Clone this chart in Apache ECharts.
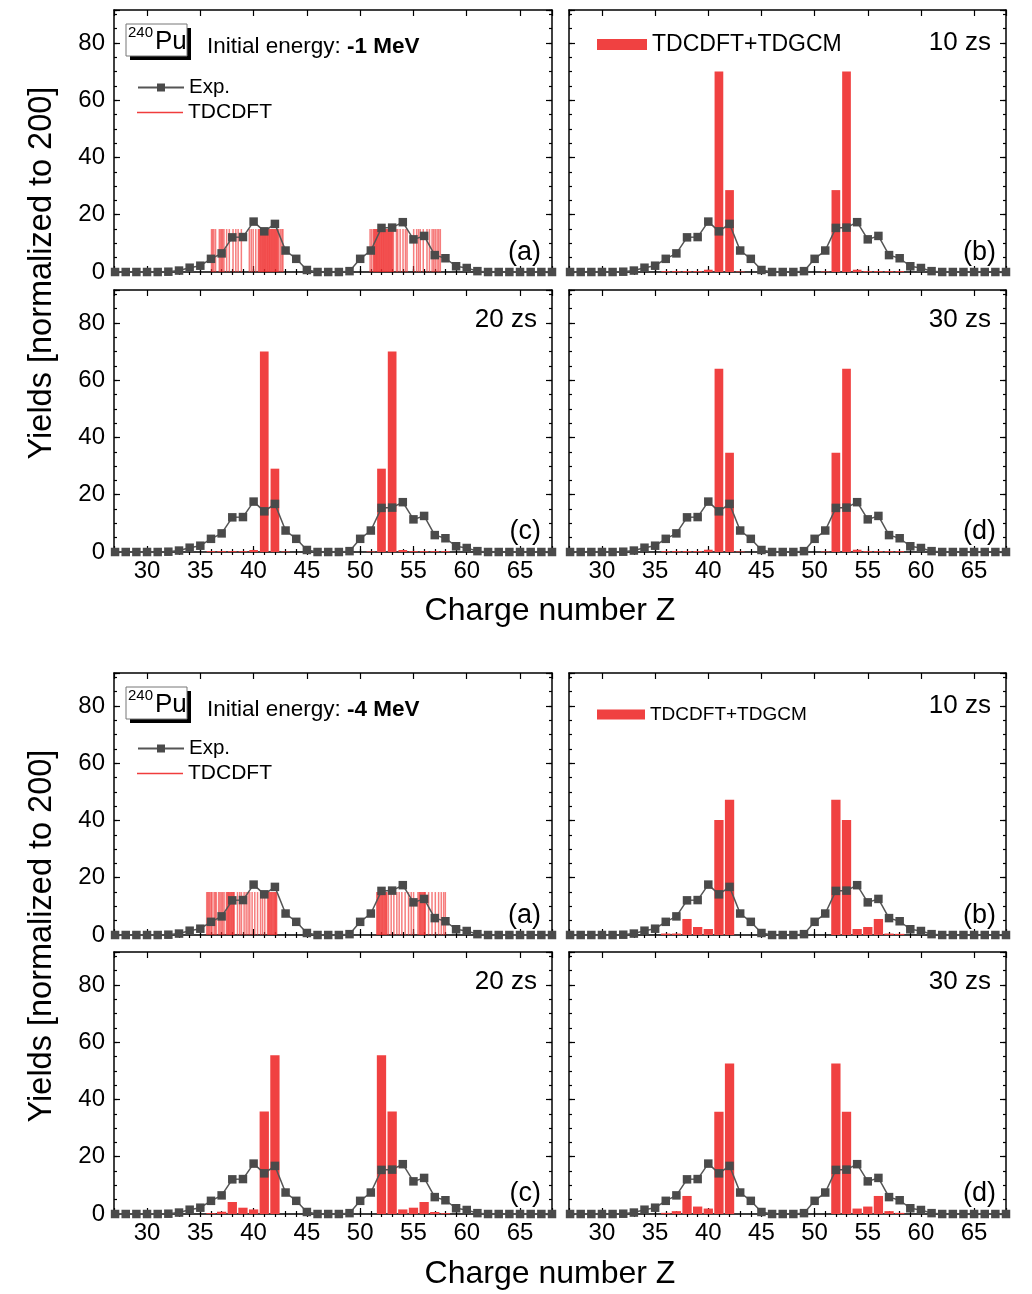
<!DOCTYPE html>
<html>
<head>
<meta charset="utf-8">
<script src="https://cdn.jsdelivr.net/npm/echarts@6.0.0/dist/echarts.min.js"></script>
<style>
html,body{margin:0;padding:0;background:#fff;}
#chart{width:1032px;height:1294px;}
</style>
</head>
<body>
<div id="chart"></div>
<script>
// ---------------- DATA ----------------
const zValues = [27,28,29,30,31,32,33,34,35,36,37,38,39,40,41,42,43,44,45,46,47,48,49,50,51,52,53,54,55,56,57,58,59,60,61,62,63,64,65,66,67,68];
const expYield = [0,0,0,0,0,0.1,0.5,1.5,2.2,4.6,6.5,12.1,12.2,17.6,14.2,16.8,7.5,4.6,0.7,0,0,0,0.3,4.6,7.5,15.4,15.5,17.4,11.4,12.6,5.9,4.8,2.0,1.4,0.3,0,0,0,0,0,0,0];

// TDCDFT+TDGCM yields, Z = 36..58
const gcmZ = [36,37,38,39,40,41,42,43,44,45,46,47,48,49,50,51,52,53,54,55,56,57,58];
const gcmM1_10zs = [0.3,0.3,0.3,0.3,0.8,70,28.6,0.2,0,0,0,0,0,0,0,0.2,28.6,70,0.8,0.3,0.3,0.3,0.3];
const gcmM1_20zs = [0.3,0.3,0.3,0.3,0.7,70,29.1,0.2,0,0,0,0,0,0,0,0.2,29.1,70,0.7,0.3,0.3,0.3,0.3];
const gcmM1_30zs = [0.3,0.3,0.3,0.3,0.8,64,34.7,0.2,0,0,0,0,0,0,0,0.2,34.7,64,0.8,0.3,0.3,0.3,0.3];
const gcmM4_10zs = [0.5,0.5,5.6,2.8,2.1,40.2,47.2,0,0,0,0,0,0,0,0,0,47.2,40.2,2.1,2.8,5.6,0.5,0.4];
const gcmM4_20zs = [0.3,0.8,4.2,2.2,1.6,35.8,55.4,0,0,0,0,0,0,0,0,0,55.4,35.8,1.6,2.2,4.2,0.7,0.3];
const gcmM4_30zs = [0.4,1.0,6.3,2.6,1.9,35.7,52.6,0,0,0,0,0,0,0,0,0,52.6,35.7,1.9,2.6,6.3,1.0,0.4];

// TDCDFT fragment charges (each drawn as a thin line)
const tdcdftZ_m1MeV = [36.05,36.15,36.27,36.43,36.78,36.9,37.0,37.1,37.22,37.47,37.72,38.07,38.33,38.55,38.85,39.6,39.78,39.96,40.2,
  40.45,40.52,40.6,40.66,40.73,40.8,40.87,40.93,41.0,41.07,41.13,41.2,41.27,41.33,41.4,41.47,41.53,41.6,41.67,41.73,41.8,41.87,41.93,42.0,42.07,42.13,42.2,42.27,42.35,
  42.5,42.65,42.75,
  50.93,51.08,51.24,51.3,51.37,51.44,51.5,51.57,51.63,51.7,51.77,51.83,51.9,51.97,52.03,52.1,52.17,52.23,52.3,52.37,52.43,52.5,52.57,52.63,52.7,52.77,52.83,52.9,52.97,53.03,53.12,
  53.4,53.52,53.75,54.02,54.25,54.4,55.02,55.3,55.48,55.64,55.92,56.27,56.5,56.75,56.9,57.05,57.22,57.37,57.52];
const tdcdftZ_m4MeV = [35.6,35.7,35.8,35.9,36.02,36.1,36.29,36.4,36.51,36.73,36.85,36.98,37.1,37.23,
  37.45,37.52,37.6,37.67,37.74,37.82,37.9,37.97,38.05,38.12,38.17,
  38.49,38.7,38.86,39.11,39.3,39.48,39.64,39.86,40.11,40.37,40.65,40.84,41.05,
  41.31,41.38,41.45,41.52,41.6,41.67,41.74,41.82,41.9,41.97,42.04,42.1,42.16,
  51.56,51.63,51.7,51.77,51.84,51.92,52.0,52.07,52.14,52.22,52.3,52.37,52.44,52.5,
  52.65,52.91,53.16,53.44,53.66,53.91,54.22,54.54,54.79,55.01,55.42,
  55.54,55.61,55.68,55.76,55.84,55.92,56.0,56.06,56.11,
  56.42,56.74,57.05,57.36,57.61,57.83,57.99];
const tdcdftLineHeight = 15;

const xTickLabels = [30,35,40,45,50,55,60,65];
const yTickLabels = [0,20,40,60,80];
const panelLetters = ['(a)','(b)','(c)','(d)'];
const timeLabels = ['', '10 zs', '20 zs', '30 zs'];
const energyLabels = ['-1 MeV', '-4 MeV'];

// ---------------- LAYOUT ----------------
const FONT = '"Liberation Sans", Arimo, Arial, Helvetica, sans-serif';
const RED = '#f04141';
const GRAY = '#4a4a4a';
const grids = [
  {left:114, top:10,  width:438, height:262},
  {left:569, top:10,  width:437, height:262},
  {left:114, top:290, width:438, height:262},
  {left:569, top:290, width:437, height:262},
  {left:114, top:673, width:438, height:262},
  {left:569, top:673, width:437, height:262},
  {left:114, top:952, width:438, height:262},
  {left:569, top:952, width:437, height:262}
];
const X_MIN = 26.9, X_MAX = 68, Y_MIN = 0, Y_MAX = 91.5;

const xAxes = [], yAxes = [], series = [];
const tickStyle = {color:'#000', width:1.2};
const lineStyleAx = {show:true, onZero:false, lineStyle:{color:'#000', width:1.5}};

grids.forEach((g, i) => {
  const p = i % 4;
  const showXLabel = p >= 2;
  const showYLabel = p % 2 === 0;
  ['bottom','top'].forEach(pos => {
    [true,false].forEach(major => {
      xAxes.push({
        gridIndex:i, type:'value', position:pos, min:X_MIN, max:X_MAX,
        minInterval: major?5:1, maxInterval: major?5:1, splitNumber: major?8:41,
        axisLine: major ? lineStyleAx : {show:false},
        axisTick: {show:true, inside:true, length: major?6:3, lineStyle:tickStyle},
        axisLabel: {show: major && pos==='bottom' && showXLabel, fontSize:24, fontFamily:FONT, color:'#000', margin:7,
          formatter: v => xTickLabels.includes(Math.round(v*1000)/1000) ? String(v) : ''},
        splitLine:{show:false}, axisPointer:{show:false}
      });
    });
  });
  ['left','right'].forEach(pos => {
    [true,false].forEach(major => {
      yAxes.push({
        gridIndex:i, type:'value', position:pos, min:Y_MIN, max:Y_MAX,
        minInterval: major?20:5, maxInterval: major?20:5, splitNumber: major?4:18,
        axisLine: major ? lineStyleAx : {show:false},
        axisTick: {show:true, inside:true, length: major?6:3, lineStyle:tickStyle},
        axisLabel: {show: major && pos==='left' && showYLabel, fontSize:24, fontFamily:FONT, color:'#000', margin:9,
          formatter: v => yTickLabels.includes(Math.round(v*1000)/1000) ? String(v) : ''},
        splitLine:{show:false}, axisPointer:{show:false}
      });
    });
  });

  const fig = i < 4 ? 0 : 1;
  if (p === 0) {
    const src = fig === 0 ? tdcdftZ_m1MeV : tdcdftZ_m4MeV;
    series.push({
      type:'bar', name:'TDCDFT', xAxisIndex:4*i, yAxisIndex:4*i,
      data: src.map(z => [z, tdcdftLineHeight]),
      barWidth:1.5, itemStyle:{color:'rgba(240,45,45,0.62)'}, z:3, silent:true
    });
  } else {
    const sets = fig === 0 ? [gcmM1_10zs, gcmM1_20zs, gcmM1_30zs] : [gcmM4_10zs, gcmM4_20zs, gcmM4_30zs];
    const arr = sets[p-1];
    series.push({
      type:'bar', name:'TDCDFT+TDGCM', xAxisIndex:4*i, yAxisIndex:4*i,
      data: gcmZ.map((z,k) => [z, arr[k]]),
      barWidth: fig === 0 ? 8.7 : 9.3, itemStyle:{color:RED}, z:3, silent:true
    });
  }
  series.push({
    type:'line', name:'Exp.', xAxisIndex:4*i, yAxisIndex:4*i,
    data: zValues.map((z,k) => [z, expYield[k]]),
    symbol:'rect', symbolSize:8.5, clip:false, z:5, silent:true,
    lineStyle:{color:'#555', width:1.5}, itemStyle:{color:GRAY}
  });
});

// ---------------- GRAPHIC TEXTS ----------------
const graphic = [];
const txt = (x, y, text, size, align, extra) => graphic.push(Object.assign({
  type:'text', x:x, y:y, silent:true,
  style:{text:text, fontSize:size, fontFamily:FONT, fill:'#000', align:align||'left', verticalAlign:'middle'}
}, extra||{}));

[0,1].forEach(fig => {
  const top = fig === 0 ? 10 : 673;
  const top2 = fig === 0 ? 290 : 952;
  // 240Pu box with shadow
  graphic.push({type:'rect', silent:true, shape:{x:130, y:top+18, width:61, height:32}, style:{fill:'#000'}});
  graphic.push({type:'rect', silent:true, shape:{x:126, y:top+14, width:61, height:32}, style:{fill:'#fff', stroke:'#777', lineWidth:1}});
  txt(128, top+23, '240', 15, 'left');
  txt(155, top+32, 'Pu', 26, 'left');
  // initial energy
  graphic.push({type:'text', x:207, y:top+37, silent:true, style:{
    text:'{n|Initial energy: }{b|' + energyLabels[fig] + '}', verticalAlign:'middle', align:'left',
    rich:{n:{fontSize:22.5, fontFamily:FONT, fill:'#000'}, b:{fontSize:22.5, fontFamily:FONT, fontWeight:'bold', fill:'#000'}}
  }});
  // panel letters
  txt(541, top+243, panelLetters[0], 27, 'right');
  txt(996, top+243, panelLetters[1], 27, 'right');
  txt(541, top2+242, panelLetters[2], 27, 'right');
  txt(996, top2+242, panelLetters[3], 27, 'right');
  // times
  txt(991, top+33, timeLabels[1], 26, 'right');
  txt(537, top2+30, timeLabels[2], 26, 'right');
  txt(991, top2+30, timeLabels[3], 26, 'right');
  // axis titles
  txt(550, fig === 0 ? 611 : 1274, 'Charge number Z', 32, 'center');
  txt(42, fig === 0 ? 273 : 936, 'Yields [normalized to 200]', 32.5, 'center', {rotation: Math.PI/2});
});

const legTxt = size => ({fontSize:size, fontFamily:FONT, color:'#000'});
const legends = [];
[{exp:77, td:102, gcm:33, gsize:23, gw:50, gh:11}, {exp:738, td:763, gcm:705, gsize:19, gw:48, gh:10}].forEach(L => {
  legends.push({data:['Exp.'], left:137, top:L.exp, itemWidth:46, itemHeight:10, selectedMode:false, textStyle:legTxt(20.5), padding:0});
  legends.push({data:[{name:'TDCDFT', icon:'rect', itemStyle:{color:'#f03c3c', opacity:1}}], left:137, top:L.td, itemWidth:46, itemHeight:1.5, selectedMode:false, textStyle:legTxt(21), padding:0});
  legends.push({data:[{name:'TDCDFT+TDGCM', icon:'rect'}], left:597, top:L.gcm, itemWidth:L.gw, itemHeight:L.gh, selectedMode:false, textStyle:legTxt(L.gsize), padding:0});
});

const chart = echarts.init(document.getElementById('chart'), null, {renderer:'canvas'});
chart.setOption({
  animation:false,
  backgroundColor:'#fff',
  grid: grids.map(g => Object.assign({containLabel:false}, g)),
  xAxis: xAxes,
  yAxis: yAxes,
  legend: legends,
  series: series,
  graphic: graphic
});
</script>
</body>
</html>
